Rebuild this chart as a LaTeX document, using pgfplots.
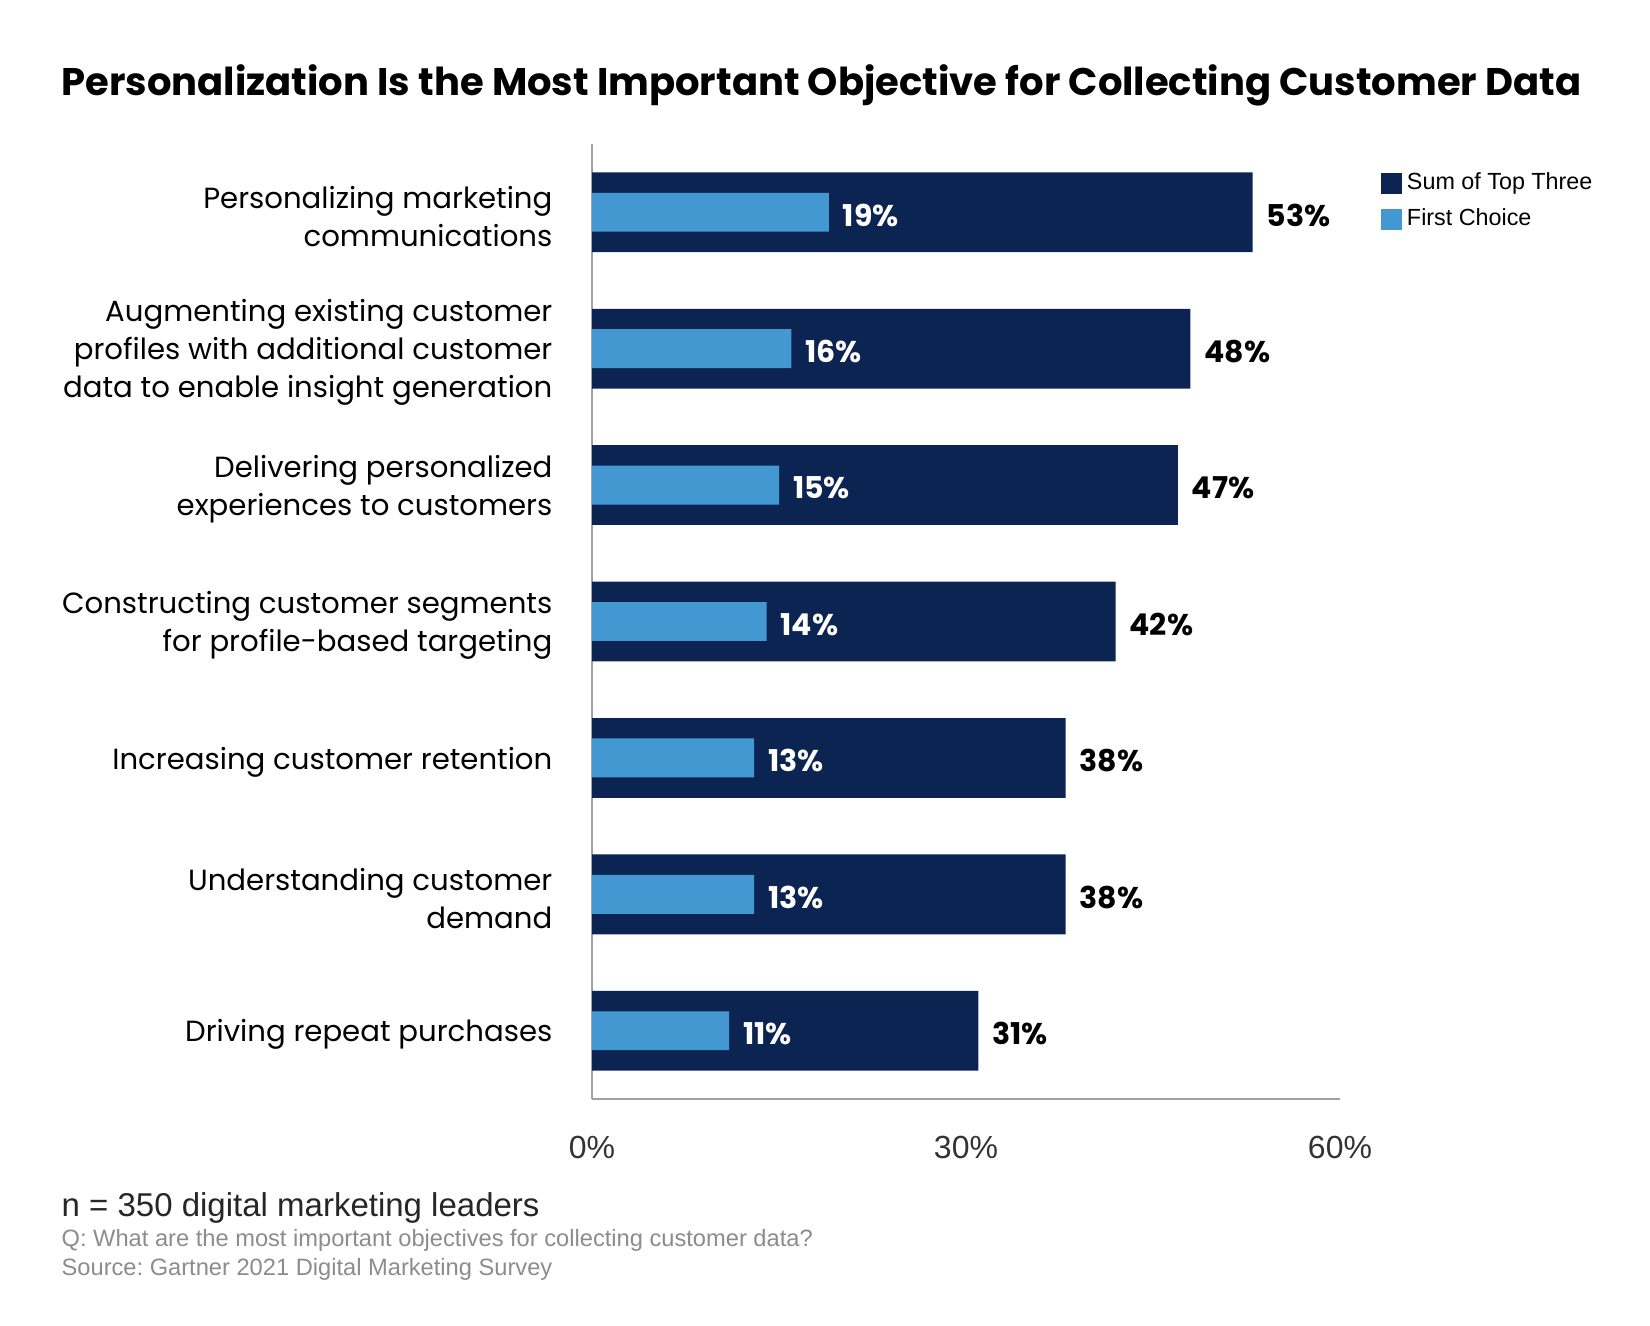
\documentclass[border=0pt]{standalone}
\usepackage{fontspec}
\setmainfont{Poppins}
\newfontfamily\arial{Liberation Sans}
\usepackage{pgfplots}
\pgfplotsset{compat=1.18}
\definecolor{darkbar}{RGB}{12,36,82}
\definecolor{lightbar}{RGB}{67,152,210}
\definecolor{axisgray}{RGB}{160,160,160}
\definecolor{footgray}{RGB}{140,140,140}
\frenchspacing
\begin{document}
\begin{tikzpicture}
\useasboundingbox (0,0) rectangle (495pt,-397.8pt);
\begin{axis}[
  at={(177.6pt,-329.7pt)}, anchor=south west,
  scale only axis, width=224.4pt, height=286.5pt,
  xmin=0, xmax=60, ymin=-0.5, ymax=6.5,
  /pgf/number format/assume math mode=true,
  axis x line*=bottom, axis y line*=left,
  axis line style={-, draw=axisgray, line width=0.7pt},
  major tick length=0pt,
  xtick={0,30,60}, xticklabels={0\%,30\%,60\%},
  xticklabel style={font=\arial\fontsize{9.6}{11}\selectfont, text=black!80, anchor=center, yshift=-14.6pt},
  ytick={0,1,2,3,4,5,6},
  yticklabels={Driving repeat purchases,
    Understanding customer\\demand,
    Increasing customer retention,
    Constructing customer segments\\for profile-based targeting,
    Delivering personalized\\experiences to customers,
    Augmenting existing customer\\profiles with additional customer\\data to enable insight generation,
    Personalizing marketing\\communications},
  yticklabel style={font=\fontsize{8.75}{11.4}\selectfont, align=right, anchor=east, inner sep=0pt, xshift=-11.7pt, yshift=-1.2pt},
  legend style={at={(1,1)}, anchor=north west, xshift=9pt, yshift=-4.8pt, draw=none, fill=none,
    font=\arial\fontsize{7}{8}\selectfont, row sep=1.1pt, nodes={inner sep=1.6pt}},
  legend cell align=left,
  legend image code/.code={\fill[#1,/tikz/.cd] (-1.6pt,-3.15pt) rectangle (4.7pt,3.15pt);},
  clip=false,
]
\addplot[xbar, bar width=0.585, bar shift=0pt, fill=darkbar, draw=none,
  nodes near coords={\pgfmathprintnumber{\pgfplotspointmeta}\%},
  every node near coord/.append style={font=\bfseries\fontsize{9}{10}\selectfont, text=black, anchor=west, inner sep=0pt, xshift=4pt, yshift=-0.9pt}]
  coordinates {(53,6) (48,5) (47,4) (42,3) (38,2) (38,1) (31,0)};
\addlegendentry{Sum of Top Three}
\addplot[xbar, bar width=0.285, bar shift=0pt, fill=lightbar, draw=none,
  nodes near coords={\pgfmathprintnumber{\pgfplotspointmeta}\%},
  every node near coord/.append style={font=\bfseries\fontsize{9}{10}\selectfont, text=white, anchor=west, inner sep=0pt, xshift=4pt, yshift=-0.9pt}]
  coordinates {(19,6) (16,5) (15,4) (14,3) (13,2) (13,1) (11,0)};
\addlegendentry{First Choice}
\end{axis}
\node[anchor=west, inner sep=0pt, font=\bfseries\fontsize{11.55}{13}\selectfont] at (18.3pt,-25.6pt)
  {Personalization Is the Most Important Objective for Collecting Customer Data};
\node[anchor=west, inner sep=0pt, font=\arial\fontsize{9.9}{11}\selectfont, text=black!85] at (18.3pt,-362.5pt)
  {n = 350 digital marketing leaders};
\node[anchor=west, inner sep=0pt, font=\arial\fontsize{7.1}{8}\selectfont, text=footgray] at (18.3pt,-372.1pt)
  {Q: What are the most important objectives for collecting customer data?};
\node[anchor=west, inner sep=0pt, font=\arial\fontsize{7.1}{8}\selectfont, text=footgray] at (18.3pt,-380.8pt)
  {Source: Gartner 2021 Digital Marketing Survey};
\end{tikzpicture}
\end{document}
